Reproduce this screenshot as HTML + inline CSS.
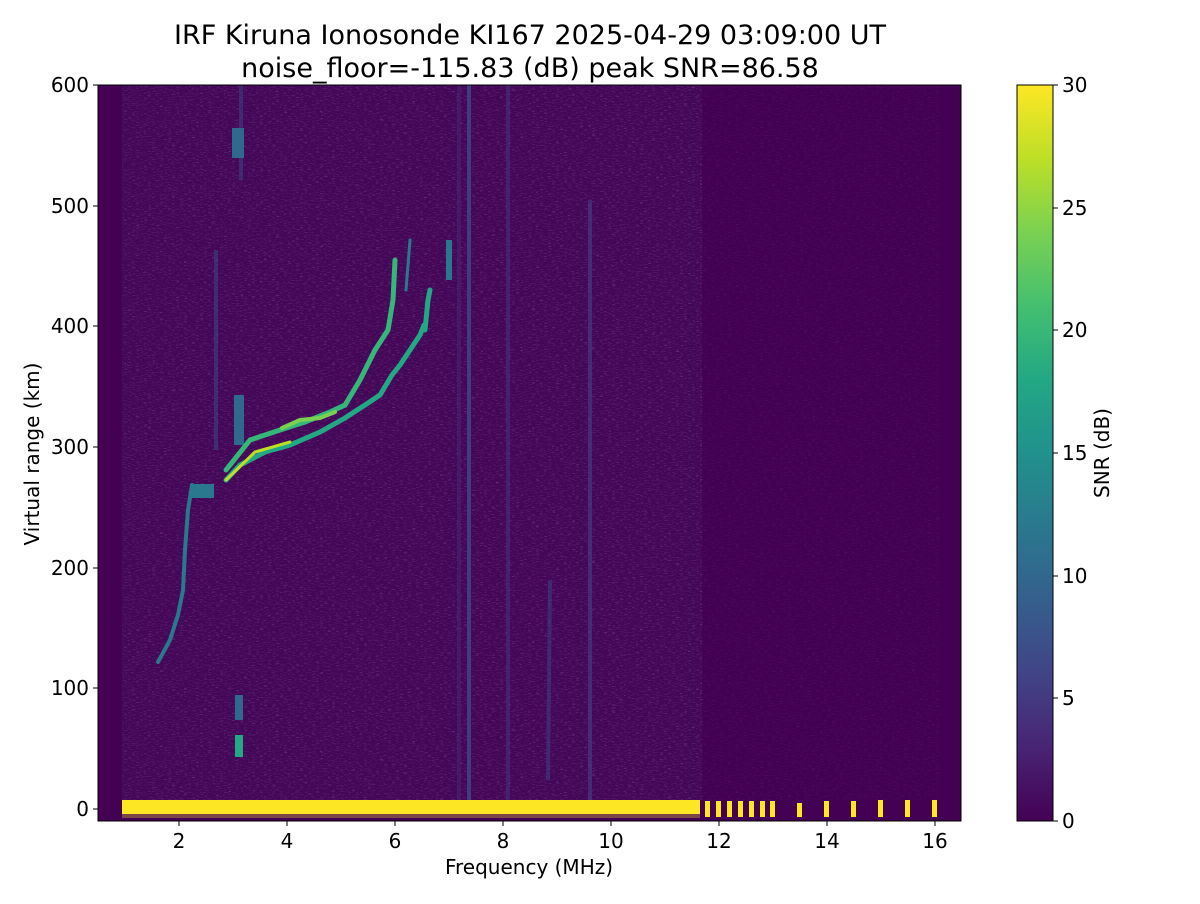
<!DOCTYPE html>
<html><head><meta charset="utf-8"><style>
body{margin:0;background:#fff;font-family:"DejaVu Sans","Liberation Sans",sans-serif;}
</style></head><body>
<svg width="1200" height="900" xmlns="http://www.w3.org/2000/svg" font-family="DejaVu Sans, Liberation Sans, sans-serif">
<defs>
<filter id="nz" x="0" y="0" width="1" height="1">
<feTurbulence type="fractalNoise" baseFrequency="0.25 1.2" numOctaves="2" seed="3"/>
<feColorMatrix type="matrix" values="0 0 0 0 0.28  0 0 0 0 0.14  0 0 0 0 0.45  0 0 0 1.6 -0.85"/>
</filter>
<linearGradient id="vir" x1="0" y1="1" x2="0" y2="0">
<stop offset="0" stop-color="#440154"/><stop offset="0.1" stop-color="#482475"/>
<stop offset="0.2" stop-color="#414487"/><stop offset="0.3" stop-color="#355f8d"/>
<stop offset="0.4" stop-color="#2a788e"/><stop offset="0.5" stop-color="#21918c"/>
<stop offset="0.6" stop-color="#22a884"/><stop offset="0.7" stop-color="#44bf70"/>
<stop offset="0.8" stop-color="#7ad151"/><stop offset="0.9" stop-color="#bddf26"/>
<stop offset="1" stop-color="#fde725"/></linearGradient>
</defs>
<text x="530" y="44" font-size="27" text-anchor="middle">IRF Kiruna Ionosonde KI167 2025-04-29 03:09:00  UT</text>
<text x="530" y="77" font-size="27" text-anchor="middle">noise_floor=-115.83 (dB) peak SNR=86.58</text>
<rect x="98" y="85" width="863" height="736" fill="#440154"/>
<rect x="122" y="85" width="580" height="715" fill="#450858" opacity="0.9"/>
<rect x="122" y="85" width="580" height="715" filter="url(#nz)" opacity="0.8"/>
<rect x="700" y="85" width="240" height="715" filter="url(#nz)" opacity="0.3"/>
<g stroke-width="4" opacity="0.8">
<line x1="469" y1="85" x2="469" y2="800" stroke="#3e4a89"/>
<line x1="508" y1="85" x2="508" y2="800" stroke="#433d84" opacity="0.6"/>
<line x1="590" y1="200" x2="590" y2="800" stroke="#3e4a89" opacity="0.7"/>
<line x1="459" y1="85" x2="459" y2="800" stroke="#472d7b" opacity="0.6"/>
<line x1="550" y1="580" x2="548" y2="780" stroke="#3e4a89" opacity="0.6"/>
<line x1="216" y1="250" x2="216" y2="450" stroke="#3b528b" opacity="0.6"/>
<line x1="241" y1="85" x2="241" y2="180" stroke="#3e4a89" opacity="0.6"/>
</g>
<g fill="none" stroke-linecap="round">
<polyline points="158,662 170,640 178,615 183,590 185,550 188,510 192,485" stroke="#2a788e" stroke-width="4"/>
<rect x="192" y="484" width="22" height="14" fill="#2a788e" stroke="none"/>
<rect x="234" y="395" width="10" height="50" fill="#31688e" stroke="none"/>
<rect x="235" y="695" width="8" height="25" fill="#31688e" stroke="none"/>
<rect x="235" y="735" width="8" height="22" fill="#22a884" stroke="none"/>
<rect x="232" y="128" width="12" height="30" fill="#31688e" stroke="none"/>
<polyline points="226,480 240,465 265,452 290,445 320,432 345,418 365,405 380,395 392,375 400,365 410,350 420,335 424,325" stroke="#22a884" stroke-width="5"/>
<polyline points="226,470 250,440 280,430 305,422 330,412 345,405 360,380 375,350 388,330 393,300 395,260" stroke="#35b779" stroke-width="5"/>
<polyline points="282,428 300,420 320,418 335,412" stroke="#7ad151" stroke-width="4"/>
<polyline points="226,480 255,452 290,442" stroke="#bddf26" stroke-width="3"/>
<polyline points="425,330 428,300 430,290" stroke="#22a884" stroke-width="5"/>
<polyline points="406,290 408,265 410,240" stroke="#2a788e" stroke-width="3"/>
<rect x="446" y="240" width="6" height="40" fill="#2a788e" stroke="none"/>
</g>
<rect x="122" y="800" width="578" height="18" fill="#fde725"/>
<rect x="122" y="814" width="578" height="4" fill="#440154" opacity="0.7"/>
<g fill="#fde725">
<rect x="705" y="801" width="5" height="16"/><rect x="716" y="801" width="5" height="16"/>
<rect x="727" y="801" width="5" height="16"/><rect x="738" y="801" width="5" height="16"/>
<rect x="749" y="801" width="5" height="16"/><rect x="760" y="801" width="5" height="16"/>
<rect x="770" y="801" width="5" height="16"/><rect x="797" y="803" width="5" height="14"/>
<rect x="824" y="801" width="5" height="16"/><rect x="851" y="801" width="5" height="16"/>
<rect x="878" y="800" width="5" height="17"/><rect x="905" y="800" width="5" height="17"/>
<rect x="932" y="800" width="5" height="17"/></g>
<rect x="98" y="85" width="863" height="736" fill="none" stroke="#000" stroke-width="1"/>
<g stroke="#000">
<line x1="179" y1="821" x2="179" y2="826"/><line x1="287" y1="821" x2="287" y2="826"/>
<line x1="395" y1="821" x2="395" y2="826"/><line x1="503" y1="821" x2="503" y2="826"/>
<line x1="611" y1="821" x2="611" y2="826"/><line x1="719" y1="821" x2="719" y2="826"/>
<line x1="827" y1="821" x2="827" y2="826"/><line x1="935" y1="821" x2="935" y2="826"/>
</g>
<g font-size="20" text-anchor="middle">
<text x="179" y="848">2</text><text x="287" y="848">4</text><text x="395" y="848">6</text>
<text x="503" y="848">8</text><text x="611" y="848">10</text><text x="719" y="848">12</text>
<text x="827" y="848">14</text><text x="935" y="848">16</text>
<text x="529" y="874">Frequency (MHz)</text></g>
<g stroke="#000">
<line x1="93" y1="85" x2="98" y2="85"/><line x1="93" y1="206" x2="98" y2="206"/>
<line x1="93" y1="326" x2="98" y2="326"/><line x1="93" y1="447" x2="98" y2="447"/>
<line x1="93" y1="568" x2="98" y2="568"/><line x1="93" y1="688" x2="98" y2="688"/>
<line x1="93" y1="809" x2="98" y2="809"/></g>
<g font-size="20" text-anchor="end">
<text x="89" y="92">600</text><text x="89" y="213">500</text><text x="89" y="333">400</text>
<text x="89" y="454">300</text><text x="89" y="575">200</text><text x="89" y="695">100</text>
<text x="89" y="816">0</text></g>
<text transform="translate(39,454) rotate(-90)" font-size="20" text-anchor="middle">Virtual range (km)</text>
<rect x="1017" y="85" width="36" height="736" fill="url(#vir)" stroke="#000" stroke-width="1"/>
<g stroke="#000">
<line x1="1053" y1="85" x2="1058" y2="85"/><line x1="1053" y1="208" x2="1058" y2="208"/>
<line x1="1053" y1="330" x2="1058" y2="330"/><line x1="1053" y1="453" x2="1058" y2="453"/>
<line x1="1053" y1="576" x2="1058" y2="576"/><line x1="1053" y1="698" x2="1058" y2="698"/>
<line x1="1053" y1="821" x2="1058" y2="821"/></g>
<g font-size="20">
<text x="1062" y="92">30</text><text x="1062" y="215">25</text><text x="1062" y="337">20</text>
<text x="1062" y="460">15</text><text x="1062" y="583">10</text><text x="1062" y="705">5</text>
<text x="1062" y="828">0</text></g>
<text transform="translate(1109,453) rotate(-90)" font-size="20" text-anchor="middle">SNR (dB)</text>
</svg>
</body></html>
